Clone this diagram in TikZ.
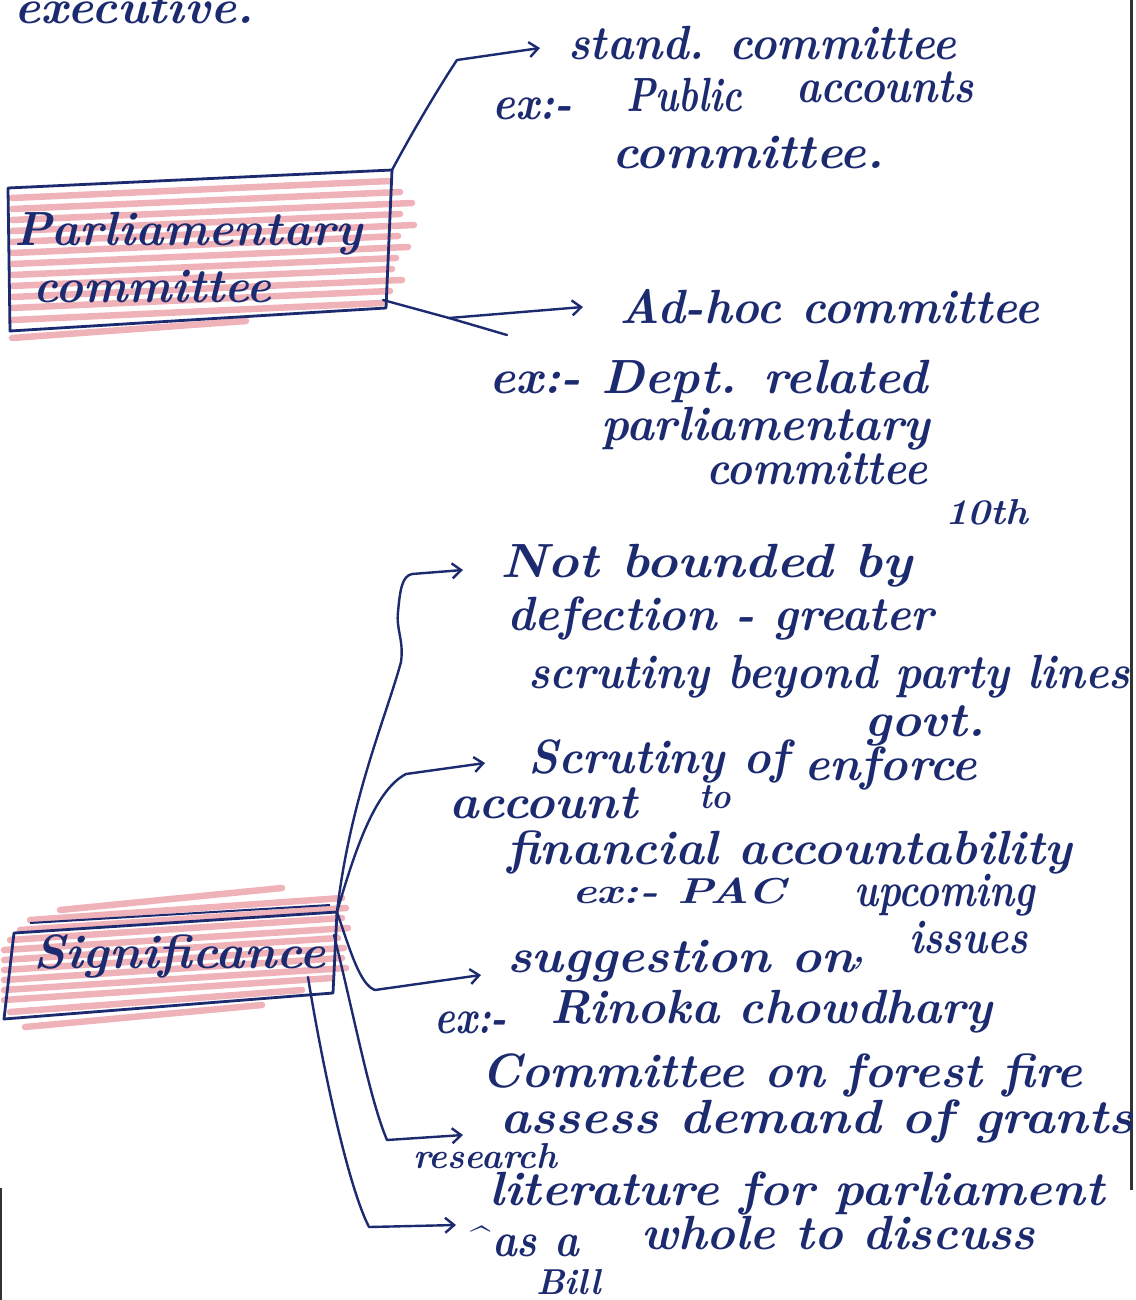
\documentclass[tikz,border=0pt]{standalone}
\usepackage{graphicx}
\usetikzlibrary{arrows.meta}
\definecolor{ink}{RGB}{28,42,112}
\definecolor{hilite}{RGB}{222,86,100}
% stretch a handwritten line horizontally to a given width, keeping its height
\newcommand{\fitw}[2]{\resizebox{#1pt}{\height}{#2}}

\begin{document}
\begin{tikzpicture}[x=1pt,y=-1pt,
  hw/.style={anchor=base west, inner sep=0pt, text=ink, font=\fontsize{48}{50}\selectfont\bfseries\itshape},
  hwsmall/.style={hw, font=\fontsize{36}{38}\selectfont\bfseries\itshape},
  boxedge/.style={draw=ink, line width=2.8pt, line join=round},
  conn/.style={draw=ink, line width=2.4pt, line cap=round, line join=round},
  tip/.style={conn, -{Straight Barb[length=9pt,width=15pt,line width=2.4pt]}},
  marker/.style={draw=hilite, line width=6.5pt, opacity=0.45, line cap=round}]

\fill[white] (0,0) rectangle (1135,1300);
\useasboundingbox (0,0) rectangle (1135,1300);
\clip (0,0) rectangle (1135,1300);

% page edges
\draw[black!80, line width=3pt] (1131,0) -- (1131,1190);
\draw[black!80, line width=2pt] (1,1188) -- (1,1300);

% ---------- box 1 : Parliamentary committee ----------
\coordinate (b1tl) at (8,188);
\coordinate (b1tr) at (392,170);
\coordinate (b1br) at (386,308);
\coordinate (b1bl) at (10,331);
\coordinate (b1r)  at (383,300);

\foreach \y/\e in {198/-6,209/4,220/16,231/4,242/18,253/2,264/12,275/0,286/-4,297/6,308/-6,320/-14,338/-150}
  \draw[marker] (12,\y) -- (396+\e,\y-17);
\draw[boxedge] (b1tl) -- (b1tr) -- (b1br) -- (b1bl) -- cycle;

\node[hw] (t1a) at (14,245) {\fitw{348}{Parliamentary}};
\node[hw] (t1b) at (33,302) {\fitw{238}{committee}};

% ---------- box 2 : Significance ----------
\coordinate (b2tl) at (14,933);
\coordinate (b2tr) at (337,912);
\coordinate (b2br) at (333,993);
\coordinate (b2bl) at (4,1019);
\coordinate (b2a)  at (334,935);
\coordinate (b2e)  at (308,977);

\foreach \y/\e/\s in {910/-60/60,920/0/30,930/4/20,940/0/10,950/6/4,960/-4/4,970/2/4,980/0/4,990/4/4,1000/-10/4,1012/-40/10,1027/-80/25}
  \draw[marker] (\s,\y) -- (342+\e,\y-22);
\draw[boxedge] (b2tl) -- (b2tr) -- (b2br) -- (b2bl) -- cycle;
\draw[boxedge, line width=2pt] (30,923) -- (330,905);

\node[hw] (t2) at (33,968) {\fitw{293}{Significance}};

% ---------- arrow targets ----------
\coordinate (k1) at (457,60);
\coordinate (tS) at (540,48);
\coordinate (k2) at (449,318);
\coordinate (stray) at (507,335);
\coordinate (tH) at (583,307);
\coordinate (tA) at (463,570);
\coordinate (tB) at (485,763);
\coordinate (tC) at (481,975);
\coordinate (tD) at (463,1135);
\coordinate (tE) at (456,1225);

% ---------- connectors ----------
\draw[tip] (b1tr) .. controls (420,118) and (445,78) .. (k1) -- (tS);
\draw[conn] (b1r) -- (k2) -- (stray);
\draw[tip] (k2) -- (tH);

\draw[tip] (b2tr) .. controls (350,800) and (385,720) .. (401,662)
  .. controls (404,640) and (396,630) .. (398,612)
  .. controls (400,590) and (402,576) .. (412,574) -- (tA);
\draw[tip] (b2tr) .. controls (355,850) and (375,790) .. (406,774) -- (tB);
\draw[tip] (b2tr) .. controls (350,950) and (360,985) .. (375,990) -- (tC);
\draw[tip] (b2a) .. controls (355,1020) and (370,1100) .. (387,1140) -- (tD);
\draw[tip] (b2e) .. controls (318,1040) and (345,1180) .. (369,1227) -- (tE);

% ---------- texts ----------
\node[hw] (exec) at (14,24) {\fitw{240}{executive.}};

\node[hw] (s1) at (568,60) {\fitw{388}{stand. committee}};
\node[hw] (s2a) at (492,120) {\fitw{80}{ex:-}};
\node[hw] (s2b) at (626,112) {\fitw{116}{Public}};
\node[hw] (s2c) at (796,103) {\fitw{178}{accounts}};
\node[hw] (s3) at (612,168) {\fitw{272}{committee.}};

\node[hw] (h1) at (619,323) {\fitw{420}{Ad-hoc committee}};
\node[hw] (h2) at (489,393) {\fitw{438}{ex:- Dept. related}};
\node[hw] (h3) at (601,440) {\fitw{329}{parliamentary}};
\node[hw] (h4) at (706,484) {\fitw{221}{committee}};

\node[hw] (a1) at (500,577) {\fitw{412}{Not bounded by}};
\node[hwsmall] (a1b) at (945,524) {\fitw{83}{10th}};
\node[hw] (a2) at (507,630) {\fitw{427}{defection - greater}};
\node[hw] (a3) at (528,688) {\fitw{602}{scrutiny beyond party lines}};

\node[hw] (b1) at (528,773) {\fitw{261}{Scrutiny of}};
\node[hw] (b1b) at (864,736) {\fitw{121}{govt.}};
\node[hw] (b2) at (449,818) {\fitw{188}{account}};
\node[hwsmall] (b2b) at (699,808) {\fitw{32}{to}};
\node[hw] (b2c) at (804,780) {\fitw{173}{enforce}};
\node[hw] (b3) at (507,864) {\fitw{565}{financial accountability}};
\node[hwsmall] (b4) at (572,903) {\fitw{213}{ex:- PAC}};

\node[hw] (c0) at (854,906) {\fitw{181}{upcoming}};
\node[hw] (c1) at (507,972) {\fitw{347}{suggestion on}};
\node[hwsmall] (c1m) at (852,962) {,};
\node[hw] (c1b) at (909,953) {\fitw{119}{issues}};
\node[hw] (c2a) at (434,1033) {\fitw{73}{ex:-}};
\node[hw] (c2b) at (550,1023) {\fitw{442}{Rinoka chowdhary}};
\node[hw] (c3) at (481,1087) {\fitw{601}{Committee on forest fire}};

\node[hw] (d1) at (500,1133) {\fitw{633}{assess demand of grants}};
\node[hwsmall] (e0) at (413,1168) {\fitw{144}{research}};
\node[hw] (e1) at (489,1205) {\fitw{615}{literature for parliament}};
\node[hwsmall] (e2m) at (465,1252) {\textasciicircum};
\node[hw] (e2a) at (492,1256) {\fitw{87}{as a}};
\node[hw] (e2b) at (641,1249) {\fitw{394}{whole to discuss}};
\node[hwsmall] (e3) at (536,1294) {\fitw{65}{Bill}};
\end{tikzpicture}
\end{document}
